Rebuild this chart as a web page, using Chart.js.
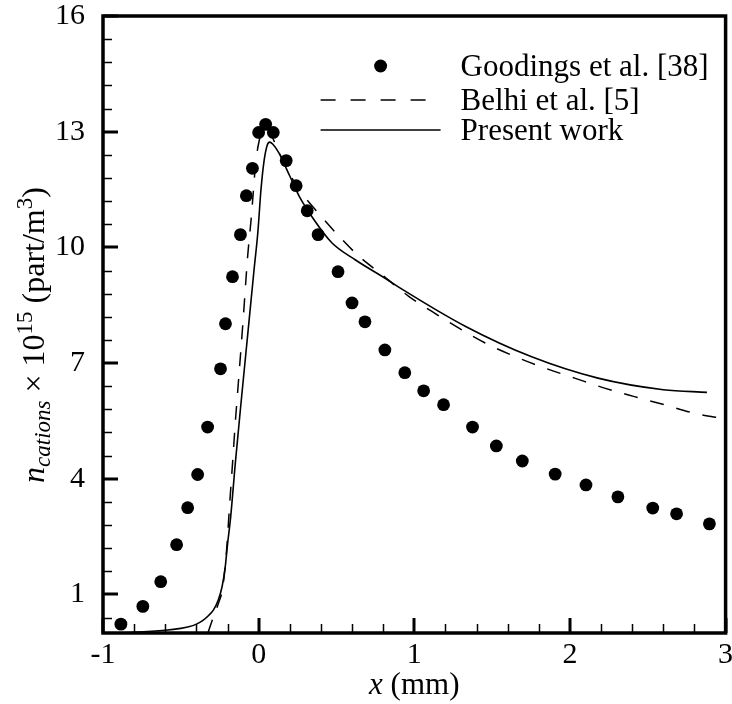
<!DOCTYPE html>
<html>
<head>
<meta charset="utf-8">
<script src="https://cdn.jsdelivr.net/npm/chart.js@4.4.0/dist/chart.umd.min.js"></script>
<style>
  html, body { margin: 0; padding: 0; background: #fff; }
</style>
</head>
<body>
<canvas id="chart" width="732" height="704"></canvas>
<script>
// Goodings et al. [38] (symbols)
const goodingsX = [-0.885, -0.744, -0.629, -0.527, -0.456, -0.392, -0.328, -0.245, -0.213, -0.168,
  -0.117, -0.079, -0.040, 0.0, 0.045, 0.094, 0.177, 0.241, 0.312, 0.382, 0.510, 0.600, 0.683,
  0.811, 0.939, 1.06, 1.188, 1.374, 1.527, 1.694, 1.905, 2.103, 2.308, 2.532, 2.685, 2.896];
const goodingsY = [0.23, 0.69, 1.33, 2.29, 3.25, 4.11, 5.34, 6.85, 8.02, 9.24,
  10.33, 11.34, 12.05, 12.98, 13.19, 12.98, 12.25, 11.6, 10.95, 10.33, 9.37, 8.56, 8.07,
  7.34, 6.75, 6.28, 5.92, 5.34, 4.85, 4.46, 4.12, 3.84, 3.53, 3.24, 3.09, 2.83];

// Belhi et al. [5] (dashed)
const belhiX = [-0.326, -0.294, -0.26, -0.23, -0.205, -0.187, -0.166, -0.151, -0.134, -0.1, -0.07,
  -0.049, -0.035, -0.02, 0, 0.03, 0.06, 0.1, 0.15, 0.2, 0.26, 0.37, 0.516, 0.644, 0.793, 0.964, 1.113,
  1.284, 1.455, 1.647, 1.839, 2.03, 2.222, 2.414, 2.606, 2.798, 3.0];
const belhiY = [0, 0.38, 0.75, 1.2, 2.2, 3.3, 4.5, 5.4, 6.3, 8.1, 9.8,
  10.7, 11.4, 12.15, 12.7, 13.05, 13.05, 12.75, 12.3, 11.9, 11.5, 10.95, 10.29, 9.77, 9.29, 8.73, 8.34,
  7.91, 7.52, 7.17, 6.87, 6.61, 6.35, 6.13, 5.92, 5.70, 5.55];

// Present work (solid)
const presentX = [-1, -0.8, -0.6, -0.5, -0.45, -0.4, -0.36, -0.32, -0.29, -0.26, -0.235, -0.215,
  -0.2, -0.18, -0.15, -0.11, -0.07, -0.03, -0.005, 0.015, 0.035, 0.055, 0.07, 0.09, 0.13, 0.2, 0.26,
  0.35, 0.47, 0.62, 0.82, 0.9, 1.33, 1.75, 2.18, 2.6, 2.88];
const presentY = [0, 0.02, 0.07, 0.12, 0.16, 0.23, 0.32, 0.46, 0.6, 0.85, 1.2, 1.7,
  2.3, 3.0, 4.4, 6.1, 7.75, 9.4, 10.4, 11.5, 12.25, 12.65, 12.73, 12.68, 12.45, 11.85, 11.33,
  10.75, 10.12, 9.68, 9.18, 8.97, 7.95, 7.17, 6.61, 6.31, 6.24];

const xTicks = [-1, 0, 1, 2, 3];
const yTicks = [1, 4, 7, 10, 13, 16];
const legendLabels = ['Goodings et al. [38]', 'Belhi et al. [5]', 'Present work'];

const FONT = '"Liberation Serif", "Times New Roman", serif';

function pairs(xs, ys) {
  return xs.map((x, i) => ({ x: x, y: ys[i] }));
}

// frame, inward ticks, legend and axis titles
const decorations = {
  id: 'decorations',
  afterDraw(chart) {
    const ctx = chart.ctx;
    const a = chart.chartArea;
    const sx = chart.scales.x, sy = chart.scales.y;
    ctx.save();
    ctx.strokeStyle = '#000';
    ctx.fillStyle = '#000';

    // minor ticks
    ctx.lineWidth = 1.5;
    ctx.beginPath();
    for (let k = 0; k <= 20; k++) {
      if (k % 5 === 0) continue;
      const px = Math.round(sx.getPixelForValue(-1 + k * 0.2)) + 0.5;
      ctx.moveTo(px, a.bottom);
      ctx.lineTo(px, a.bottom - 9);
    }
    for (let k = -1; k <= 25; k++) {
      if (k % 5 === 0) continue;
      const py = Math.round(sy.getPixelForValue(1 + k * 0.6)) + 0.5;
      ctx.moveTo(a.left, py);
      ctx.lineTo(a.left + 9, py);
    }
    ctx.stroke();

    // major ticks
    ctx.lineWidth = 3;
    ctx.beginPath();
    xTicks.forEach(v => {
      const px = Math.round(sx.getPixelForValue(v));
      ctx.moveTo(px, a.bottom);
      ctx.lineTo(px, a.bottom - 15);
    });
    yTicks.forEach(v => {
      const py = Math.round(sy.getPixelForValue(v));
      ctx.moveTo(a.left, py);
      ctx.lineTo(a.left + 15, py);
    });
    ctx.stroke();

    // frame
    ctx.lineWidth = 3.5;
    ctx.strokeRect(a.left, a.top, a.right - a.left, a.bottom - a.top);

    // legend
    const lx = a.right - 405;
    ctx.beginPath();
    ctx.arc(a.right - 345, a.top + 50, 6.5, 0, Math.PI * 2);
    ctx.fill();
    ctx.lineWidth = 1.5;
    ctx.setLineDash([15, 15]);
    ctx.beginPath();
    ctx.moveTo(lx, a.top + 84);
    ctx.lineTo(lx + 107, a.top + 84);
    ctx.stroke();
    ctx.setLineDash([]);
    ctx.beginPath();
    ctx.moveTo(lx, a.top + 114);
    ctx.lineTo(lx + 120, a.top + 114);
    ctx.stroke();
    ctx.font = '31px ' + FONT;
    ctx.textBaseline = 'alphabetic';
    ctx.textAlign = 'left';
    ctx.fillText(legendLabels[0], a.right - 265, a.top + 60);
    ctx.fillText(legendLabels[1], a.right - 265, a.top + 94);
    ctx.fillText(legendLabels[2], a.right - 265, a.top + 124);

    // x title
    const xParts = [
      { t: 'x', f: 'italic 31px ' + FONT, dy: 0 },
      { t: ' (mm)', f: '31px ' + FONT, dy: 0 }
    ];
    drawParts(ctx, xParts, (a.left + a.right) / 2, 694, 0);

    // y title
    const yParts = [
      { t: 'n', f: 'italic 32px ' + FONT, dy: 0 },
      { t: 'cations', f: 'italic 23px ' + FONT, dy: 6 },
      { t: ' \u00d7 10', f: '32px ' + FONT, dy: 0 },
      { t: '15', f: '23px ' + FONT, dy: -12 },
      { t: ' (part/m', f: '32px ' + FONT, dy: 0 },
      { t: '3', f: '23px ' + FONT, dy: -12 },
      { t: ')', f: '32px ' + FONT, dy: 0 }
    ];
    drawParts(ctx, yParts, 44, 335, -Math.PI / 2);
    ctx.restore();
  }
};

function drawParts(ctx, parts, cx, cy, rot) {
  let total = 0;
  parts.forEach(p => { ctx.font = p.f; p.w = ctx.measureText(p.t).width; total += p.w; });
  ctx.save();
  ctx.translate(cx, cy);
  ctx.rotate(rot);
  ctx.textAlign = 'left';
  ctx.textBaseline = 'alphabetic';
  let x = -total / 2;
  parts.forEach(p => {
    ctx.font = p.f;
    ctx.fillText(p.t, x, p.dy);
    x += p.w;
  });
  ctx.restore();
}

new Chart(document.getElementById('chart'), {
  type: 'line',
  data: {
    datasets: [
      {
        label: legendLabels[0],
        data: pairs(goodingsX, goodingsY),
        showLine: false,
        pointRadius: 6.4,
        pointBackgroundColor: '#000',
        pointBorderWidth: 0
      },
      {
        label: legendLabels[1],
        data: pairs(belhiX, belhiY),
        borderColor: '#000',
        borderWidth: 1.5,
        borderDash: [14, 13],
        pointRadius: 0,
        cubicInterpolationMode: 'monotone'
      },
      {
        label: legendLabels[2],
        data: pairs(presentX, presentY),
        borderColor: '#000',
        borderWidth: 1.6,
        pointRadius: 0,
        cubicInterpolationMode: 'monotone'
      }
    ]
  },
  options: {
    responsive: false,
    devicePixelRatio: 1,
    animation: false,
    layout: { padding: { left: 0, right: 4, top: 16, bottom: 0 } },
    plugins: { legend: { display: false }, tooltip: { enabled: false } },
    scales: {
      x: {
        type: 'linear',
        min: -1,
        max: 3,
        afterBuildTicks: s => { s.ticks = xTicks.map(v => ({ value: v })); },
        afterFit: s => { s.height = 71; s.paddingLeft = 0; s.paddingRight = 0; },
        grid: { display: false },
        border: { display: false },
        ticks: {
          color: '#000',
          font: { family: FONT, size: 30 },
          padding: -4,
          maxRotation: 0,
          autoSkip: false,
          callback: v => String(v)
        }
      },
      y: {
        min: 0,
        max: 16,
        afterBuildTicks: s => { s.ticks = yTicks.map(v => ({ value: v })); },
        afterFit: s => { s.width = 103; s.paddingTop = 0; s.paddingBottom = 0; },
        grid: { display: false },
        border: { display: false },
        ticks: {
          color: '#000',
          font: { family: FONT, size: 30 },
          padding: 10,
          callback: v => String(v)
        }
      }
    }
  },
  plugins: [decorations]
});
</script>
</body>
</html>
